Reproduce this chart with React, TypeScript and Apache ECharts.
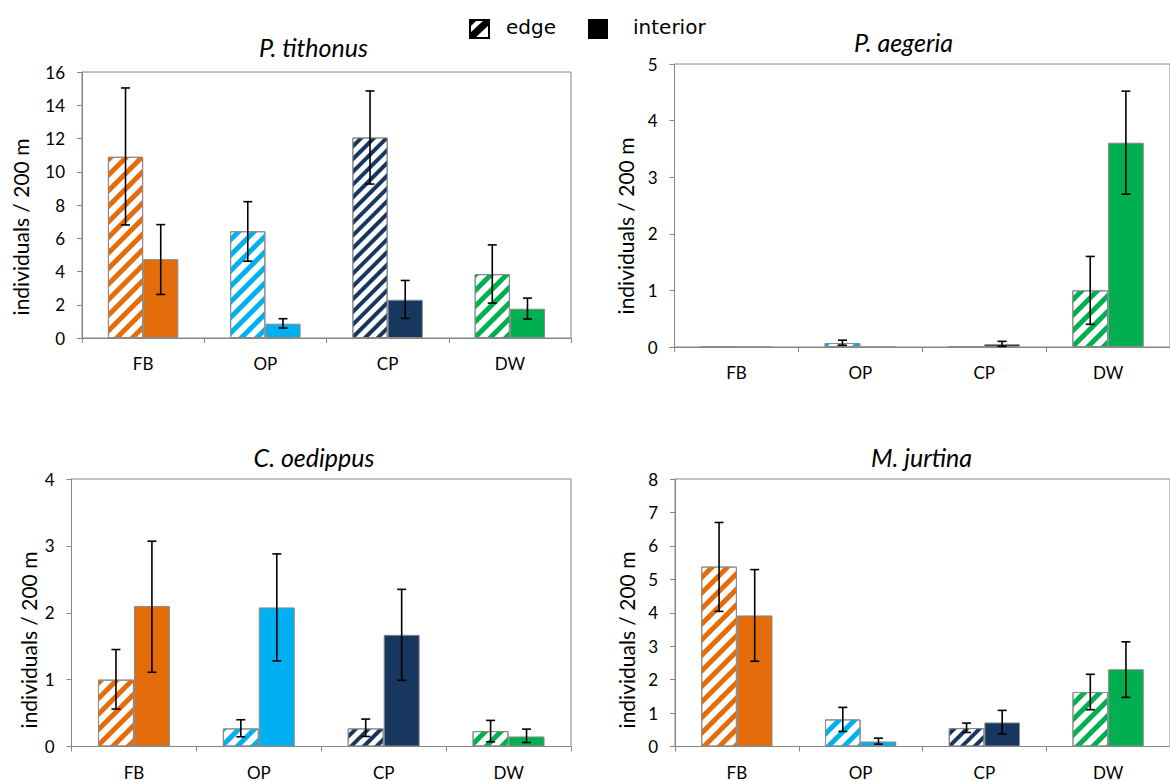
import React, { useEffect, useRef } from 'react';
import * as echarts from 'echarts';

// ---------- data ----------
const categories = ['FB', 'OP', 'CP', 'DW'];
const habitatColors = ['#E46C0A', '#00B0F0', '#17375E', '#00B050'];

const speciesTitles = ['P. tithonus', 'P. aegeria', 'C. oedippus', 'M. jurtina'];
const yAxisMax = [16, 5, 4, 8];
const yAxisInterval = [2, 1, 1, 1];

const tithonusEdge = [10.9, 6.42, 12.06, 3.84];
const tithonusEdgeLow = [6.8, 4.62, 9.26, 2.1];
const tithonusEdgeHigh = [15.04, 8.2, 14.86, 5.6];
const tithonusInterior = [4.74, 0.86, 2.3, 1.76];
const tithonusInteriorLow = [2.62, 0.6, 1.18, 1.14];
const tithonusInteriorHigh = [6.82, 1.16, 3.46, 2.4];

const aegeriaEdge = [0, 0.07, 0, 1.0];
const aegeriaEdgeLow = [null, 0.03, null, 0.4];
const aegeriaEdgeHigh = [null, 0.12, null, 1.6];
const aegeriaInterior = [0, 0, 0.05, 3.61];
const aegeriaInteriorLow = [null, null, 0.01, 2.7];
const aegeriaInteriorHigh = [null, null, 0.1, 4.52];

const oedippusEdge = [1.0, 0.27, 0.27, 0.23];
const oedippusEdgeLow = [0.56, 0.145, 0.15, 0.07];
const oedippusEdgeHigh = [1.45, 0.4, 0.41, 0.39];
const oedippusInterior = [2.1, 2.08, 1.67, 0.15];
const oedippusInteriorLow = [1.11, 1.28, 0.99, 0.06];
const oedippusInteriorHigh = [3.07, 2.88, 2.35, 0.26];

const jurtinaEdge = [5.38, 0.81, 0.55, 1.63];
const jurtinaEdgeLow = [4.04, 0.45, 0.42, 1.1];
const jurtinaEdgeHigh = [6.7, 1.17, 0.7, 2.16];
const jurtinaInterior = [3.92, 0.15, 0.72, 2.31];
const jurtinaInteriorLow = [2.55, 0.07, 0.38, 1.47];
const jurtinaInteriorHigh = [5.29, 0.25, 1.08, 3.13];

const yAxisTitle = 'individuals / 200 m';
const legendLabels = ['edge', 'interior'];

// ---------- layout / style ----------
const FONT = 'Lato, "Noto Sans", sans-serif';
const AXIS_GRAY = '#868686';
const BAR_FRACTION = 0.288;

const gridLayouts = [
  { left: 82, top: 72, width: 489, height: 266 },
  { left: 674.5, top: 64, width: 500, height: 283 },
  { left: 71.5, top: 479, width: 499.5, height: 267.5 },
  { left: 675, top: 479, width: 499, height: 267.5 },
];
const titlePositions = [
  [313.5, 47],
  [903.5, 42],
  [314, 457],
  [921.5, 457],
];
const yTitlePositions = [
  [20.5, 227],
  [625, 226],
  [28, 640],
  [626, 640],
];
const stripeDash = [
  [5, 6],
  [5, 6],
  [3.5, 4.5],
  [5, 6],
];

const panelData = [
  [tithonusEdge, tithonusEdgeLow, tithonusEdgeHigh, tithonusInterior, tithonusInteriorLow, tithonusInteriorHigh],
  [aegeriaEdge, aegeriaEdgeLow, aegeriaEdgeHigh, aegeriaInterior, aegeriaInteriorLow, aegeriaInteriorHigh],
  [oedippusEdge, oedippusEdgeLow, oedippusEdgeHigh, oedippusInterior, oedippusInteriorLow, oedippusInteriorHigh],
  [jurtinaEdge, jurtinaEdgeLow, jurtinaEdgeHigh, jurtinaInterior, jurtinaInteriorLow, jurtinaInteriorHigh],
];

function buildOption() {
  const grid: any[] = [];
  const xAxis: any[] = [];
  const yAxis: any[] = [];
  const series: any[] = [];
  const graphic: any[] = [];

  panelData.forEach((pd, p) => {
    const [edge, edgeLow, edgeHigh, interior, intLow, intHigh] = pd as any[];
    grid.push({
      ...gridLayouts[p],
      show: true,
      borderColor: AXIS_GRAY,
      borderWidth: 1,
      backgroundColor: 'transparent',
    });
    xAxis.push({
      type: 'category',
      gridIndex: p,
      data: categories,
      axisLine: { lineStyle: { color: AXIS_GRAY, width: 1 } },
      axisTick: { show: true, length: 5, lineStyle: { color: AXIS_GRAY } },
      axisLabel: { color: '#000', fontSize: 17, fontFamily: FONT, margin: 17 },
      splitLine: { show: false },
    });
    yAxis.push({
      type: 'value',
      gridIndex: p,
      min: 0,
      max: yAxisMax[p],
      interval: yAxisInterval[p],
      axisLine: { show: true, lineStyle: { color: AXIS_GRAY, width: 1 } },
      axisTick: { show: true, length: 5, lineStyle: { color: AXIS_GRAY } },
      axisLabel: { color: '#000', fontSize: 17, fontFamily: FONT, margin: 17 },
      splitLine: { show: false },
    });

    series.push({
      type: 'bar',
      name: legendLabels[0],
      xAxisIndex: p,
      yAxisIndex: p,
      barWidth: (BAR_FRACTION * 100).toFixed(1) + '%',
      barGap: '0%',
      data: edge.map((v: number, i: number) => ({
        value: v,
        itemStyle: {
          color: '#ffffff',
          borderColor: '#8a8a8a',
          borderWidth: 1,
          decal: {
            symbol: 'rect',
            symbolSize: 1,
            color: habitatColors[i],
            backgroundColor: '#ffffff',
            dashArrayX: [1, 0],
            dashArrayY: stripeDash[i],
            rotation: -Math.PI / 4,
          },
        },
      })),
    });
    series.push({
      type: 'bar',
      name: legendLabels[1],
      xAxisIndex: p,
      yAxisIndex: p,
      barWidth: (BAR_FRACTION * 100).toFixed(1) + '%',
      barGap: '0%',
      data: interior.map((v: number, i: number) => ({
        value: v,
        itemStyle: { color: habitatColors[i], borderColor: '#8a8a8a', borderWidth: 1 },
      })),
    });

    const errData: any[] = [];
    categories.forEach((_, i) => {
      if (edgeLow[i] != null) errData.push([i, edgeLow[i], edgeHigh[i], -1]);
      if (intLow[i] != null) errData.push([i, intLow[i], intHigh[i], 1]);
    });
    series.push({
      type: 'custom',
      xAxisIndex: p,
      yAxisIndex: p,
      z: 10,
      encode: { x: 0, y: [1, 2] },
      data: errData,
      renderItem: (params: any, api: any) => {
        const idx = api.value(0);
        const base = api.coord([idx, 0]);
        const band = api.size([1, 0])[0];
        const cx = base[0] + (api.value(3) * band * BAR_FRACTION) / 2;
        const yLow = api.coord([idx, api.value(1)])[1];
        const yHigh = api.coord([idx, api.value(2)])[1];
        const cap = 4.5;
        const style = { stroke: '#000', lineWidth: 1.6 };
        return {
          type: 'group',
          children: [
            { type: 'line', shape: { x1: cx, y1: yLow, x2: cx, y2: yHigh }, style },
            { type: 'line', shape: { x1: cx - cap, y1: yHigh, x2: cx + cap, y2: yHigh }, style },
            { type: 'line', shape: { x1: cx - cap, y1: yLow, x2: cx + cap, y2: yLow }, style },
          ],
        };
      },
    });

    graphic.push({
      type: 'text',
      x: titlePositions[p][0],
      y: titlePositions[p][1],
      style: {
        text: speciesTitles[p],
        fill: '#000',
        font: 'italic 25px ' + FONT,
        align: 'center',
        verticalAlign: 'middle',
        textAlign: 'center',
        textVerticalAlign: 'middle',
      },
    });
    graphic.push({
      type: 'text',
      x: yTitlePositions[p][0],
      y: yTitlePositions[p][1],
      rotation: Math.PI / 2,
      style: {
        text: yAxisTitle,
        fill: '#000',
        font: '21px ' + FONT,
        align: 'center',
        verticalAlign: 'middle',
        textAlign: 'center',
        textVerticalAlign: 'middle',
      },
    });
  });

  // legend
  const LEG_FONT = '20px "DejaVu Sans", sans-serif';
  graphic.push({
    type: 'rect',
    shape: { x: 470, y: 20, width: 19, height: 18 },
    style: { fill: '#fff', stroke: '#000', lineWidth: 2 },
  });
  graphic.push({
    type: 'polygon',
    shape: { points: [[470, 20], [477, 20], [470, 27]] },
    style: { fill: '#000' },
  });
  graphic.push({
    type: 'polygon',
    shape: { points: [[484, 20], [489, 20], [489, 25], [475, 38], [470, 38], [470, 33]] },
    style: { fill: '#000' },
  });
  graphic.push({
    type: 'text',
    x: 506,
    y: 27,
    style: { text: legendLabels[0], fill: '#000', font: LEG_FONT, align: 'left', verticalAlign: 'middle', textAlign: 'left', textVerticalAlign: 'middle' },
  });
  graphic.push({
    type: 'rect',
    shape: { x: 588, y: 19, width: 20, height: 20 },
    style: { fill: '#000' },
  });
  graphic.push({
    type: 'text',
    x: 633,
    y: 27,
    style: { text: legendLabels[1], fill: '#000', font: LEG_FONT, align: 'left', verticalAlign: 'middle', textAlign: 'left', textVerticalAlign: 'middle' },
  });

  return {
    animation: false,
    backgroundColor: '#ffffff',
    textStyle: { fontFamily: FONT },
    grid,
    xAxis,
    yAxis,
    series,
    graphic,
  };
}

export default function App() {
  const ref = useRef<HTMLDivElement>(null);
  useEffect(() => {
    if (!ref.current) return;
    const chart = echarts.init(ref.current, null, { renderer: 'svg' });
    chart.setOption(buildOption() as any);
    return () => chart.dispose();
  }, []);
  return (
    <div
      ref={ref}
      style={{ position: 'fixed', left: 0, top: 0, width: 1170, height: 781, background: '#fff' }}
    />
  );
}
